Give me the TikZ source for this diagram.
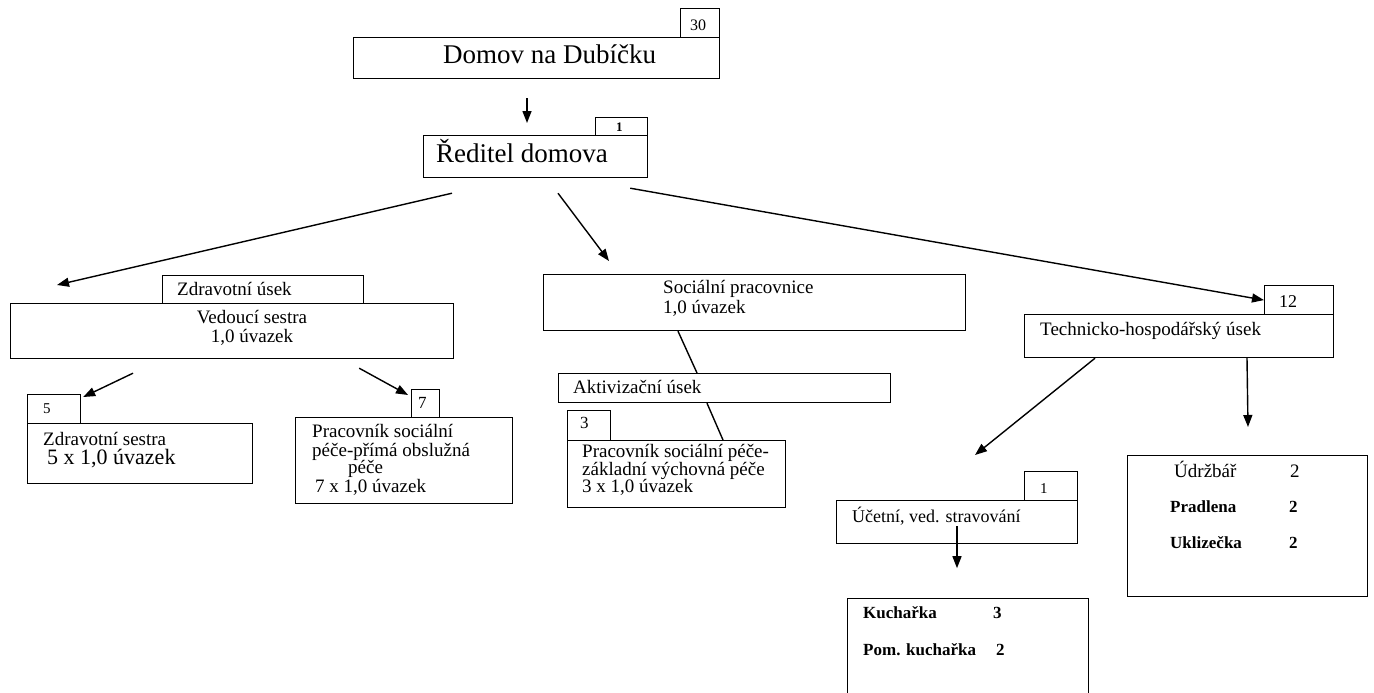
\documentclass[tikz,border=0pt]{standalone}
\usepackage{fontspec}
\setmainfont{Liberation Serif}
\usetikzlibrary{arrows.meta,calc}
\begin{document}
\begin{tikzpicture}[x=1pt,y=-1pt,
  box/.style={draw, line width=1.2pt, anchor=north west, inner sep=0pt},
  txt/.style={anchor=base west, inner sep=0pt, font=\fontsize{19}{21}\selectfont},
  ctxt/.style={anchor=base, inner sep=0pt, font=\fontsize{19}{21}\selectfont},
  btxt/.style={anchor=base west, inner sep=0pt, font=\fontsize{17}{19}\selectfont\bfseries},
  arr/.style={-{Triangle[length=12pt,width=9pt]}, line width=1.4pt},
  ln/.style={line width=1.4pt}]
\useasboundingbox (0,0) rectangle (1374,693);
\clip (0,0) rectangle (1374,693);

% ---- top
\node[box, minimum width=39pt, minimum height=29pt] (n30) at (680,8) {};
\node[box, minimum width=366pt, minimum height=41pt] (main) at (353,37) {};
\node[txt, font=\fontsize{16}{18}\selectfont] (t30) at (690,31) {30};
\node[txt, font=\fontsize{27}{30}\selectfont] (tmain) at (443,64) {Domov na Dubíčku};

\node[box, minimum width=52pt, minimum height=18pt] (n1) at (595,117) {};
\node[box, minimum width=224pt, minimum height=42pt] (red) at (423,135) {};
\node[txt, font=\fontsize{13}{15}\selectfont\bfseries] (t1) at (616,131) {1};
\node[txt, font=\fontsize{27}{30}\selectfont] (tred) at (436,162) {Ředitel domova};

\draw[arr] ($(main.south west)+(174,19)$) -- ($(red.north west)+(104,-12)$);

% ---- left branch
\node[box, minimum width=201pt, minimum height=28pt] (zu) at (162,275) {};
\node[box, minimum width=443pt, minimum height=55pt] (vs) at (10,303) {};
\node[txt] (tzu) at (177,295) {Zdravotní úsek};
\node[ctxt] (tvs1) at (252,323) {Vedoucí sestra};
\node[ctxt] (tvs2) at (252,342) {1,0 úvazek};

\node[box, minimum width=53pt, minimum height=29pt] (n5) at (27,394) {};
\node[box, minimum width=225pt, minimum height=60pt] (zs) at (27,423) {};
\node[txt, font=\fontsize{15}{17}\selectfont] (t5) at (43,413) {5};
\node[txt] (tzs1) at (43,445) {Zdravotní sestra};
\node[txt, font=\fontsize{22}{24}\selectfont] (tzs2) at (47,464) {5 x 1,0 úvazek};

\node[box, minimum width=28pt, minimum height=28pt] (n7) at (411,389) {};
\node[box, minimum width=217pt, minimum height=86pt] (ps) at (295,417) {};
\node[txt, font=\fontsize{17}{19}\selectfont] (t7) at (418,408) {7};
\node[txt] (tps1) at (312,437) {Pracovník sociální};
\node[txt] (tps2) at (312,456) {péče-přímá obslužná};
\node[txt] (tps3) at (348,473) {péče};
\node[txt] (tps4) at (315,492) {7 x 1,0 úvazek};

\coordinate (leftend) at (57,285);
\draw[arr] ($(red.south west)+(29,15)$) -- (leftend);
\draw[arr] ($(vs.south west)+(123,14)$) -- ($(n5.north east)+(2,3)$);
\draw[arr] ($(vs.south east)+(-95,9)$) -- ($(n7.north west)+(-3,6)$);

% ---- middle branch
\node[box, minimum width=422pt, minimum height=56pt] (sp) at (543,274) {};
\node[txt] (tsp1) at (663,293) {Sociální pracovnice};
\node[txt] (tsp2) at (663,313) {1,0 úvazek};

\node[box, minimum width=332pt, minimum height=29pt] (ak) at (558,373) {};
\node[txt] (tak) at (573,393) {Aktivizační úsek};

\node[box, minimum width=43pt, minimum height=30pt] (n3) at (567,410) {};
\node[box, minimum width=218pt, minimum height=67pt] (pv) at (567,440) {};
\node[txt, font=\fontsize{17}{19}\selectfont] (t3) at (580,428) {3};
\node[txt] (tpv1) at (582,457) {Pracovník sociální péče-};
\node[txt] (tpv2) at (582,475) {základní výchovná péče};
\node[txt] (tpv3) at (582,492) {3 x 1,0 úvazek};

\coordinate (midend) at (609,261);
\draw[arr] ($(red.south west)+(135,15)$) -- (midend);
\draw[ln] ($(sp.south west)+(135,0)$) -- ($(ak.north west)+(139,0)$);
\draw[ln] ($(ak.south west)+(149,0)$) -- ($(pv.north west)+(156,0)$);

% ---- right branch
\node[box, minimum width=69pt, minimum height=29pt] (n12) at (1264,285) {};
\node[box, minimum width=309pt, minimum height=43pt] (th) at (1024,314) {};
\node[txt, font=\fontsize{18}{20}\selectfont] (t12) at (1279,307) {12};
\node[txt] (tth) at (1040,335) {Technicko-hospodářský úsek};

\draw[arr] ($(red.south east)+(-18,10)$) -- (n12.west);

\node[box, minimum width=240pt, minimum height=141pt] (ud) at (1127,455) {};
\node[txt] (tud) at (1174,477) {Údržbář};
\node[txt] (tud2) at (1290,477) {2};
\node[btxt] (tpr) at (1170,512) {Pradlena};
\node[btxt] (tpr2) at (1289,512) {2};
\node[btxt] (tuk) at (1170,548) {Uklizečka};
\node[btxt] (tuk2) at (1289,548) {2};

\node[box, minimum width=53pt, minimum height=29pt] (n1b) at (1024,471) {};
\node[box, minimum width=241pt, minimum height=43pt] (uc) at (836,500) {};
\node[txt, font=\fontsize{15}{17}\selectfont] (t1b) at (1040,493) {1};
\node[txt, font=\fontsize{18}{20}\selectfont] (tuc) at (852,522) {Účetní, ved. stravování};

\node[box, minimum width=241pt, minimum height=110pt] (ku) at (847,598) {};
\node[btxt] (tku) at (863,618) {Kuchařka};
\node[btxt] (tku2) at (993,618) {3};
\node[btxt] (tpk) at (863,655) {Pom. kuchařka};
\node[btxt] (tpk2) at (996,655) {2};

\coordinate (thend) at (975,455);
\draw[arr] ($(th.south west)+(71,0)$) -- (thend);
\draw[arr] ($(th.south west)+(223,0)$) -- ($(ud.north west)+(121,-28)$);
\draw[arr] ($(uc.north west)+(121,26)$) -- ($(uc.south west)+(121,24)$);
\end{tikzpicture}
\end{document}
